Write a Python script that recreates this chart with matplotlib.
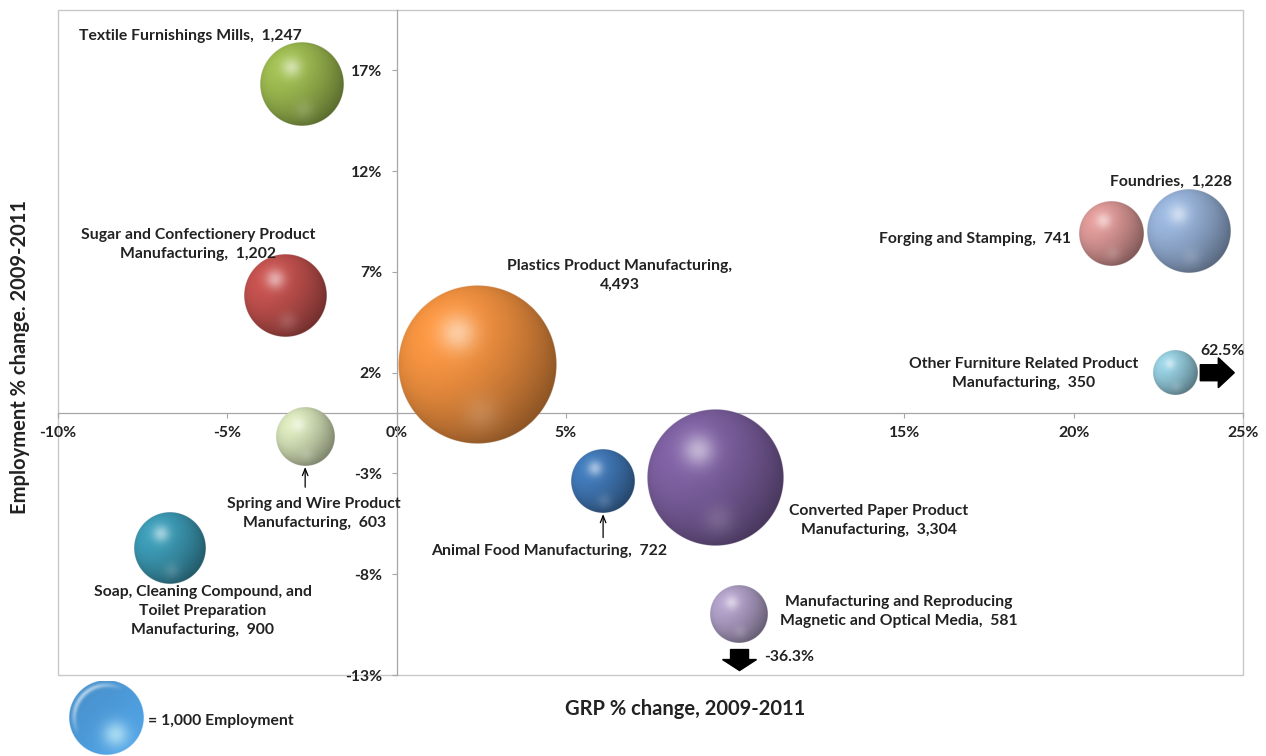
import numpy as np
import matplotlib
matplotlib.use("Agg")
import matplotlib.pyplot as plt
from matplotlib.colors import to_rgb
from matplotlib.patches import FancyArrow, Rectangle
from matplotlib.transforms import IdentityTransform

plt.rcParams['font.family'] = ['Lato', 'DejaVu Sans']
plt.rcParams['font.weight'] = 'bold'

# ----- DATA -----
industries = [
    "Textile Furnishings Mills",
    "Sugar and Confectionery Product\nManufacturing",
    "Plastics Product Manufacturing,\n",
    "Spring and Wire Product\nManufacturing",
    "Soap, Cleaning Compound, and\nToilet Preparation\nManufacturing",
    "Animal Food Manufacturing",
    "Converted Paper Product\nManufacturing",
    "Manufacturing and Reproducing\nMagnetic and Optical Media",
    "Forging and Stamping",
    "Foundries",
    "Other Furniture Related Product\nManufacturing",
]
grp_chg = [-2.8, -3.3, 2.4, -2.7, -6.7, 6.1, 9.4, 10.1, 21.1, 23.4, 62.5]   # GRP % change 2009-2011
emp_chg = [16.3, 5.8, 2.4, -1.2, -6.7, -3.4, -3.2, -36.3, 8.9, 9.0, 2.0]    # employment % change
employment = [1247, 1202, 4493, 603, 900, 722, 3304, 581, 741, 1228, 350]
colors = ["#9bb84f", "#c0504d", "#f0903f", "#d3e0b6", "#3b98b2", "#4077b5",
          "#7c5f9f", "#ad9dc4", "#d99694", "#95b0d6", "#93cadb"]

x_ticks = [-10, -5, 0, 5, 10, 15, 20, 25]
y_ticks = [-13, -8, -3, 2, 7, 12, 17]
x_lim = (-10, 25)
y_lim = (-13, 20)

# values beyond the axis range are pinned near the edge and flagged with an arrow
x_cap = 23.0
y_cap = -10.0

# label offsets from bubble centre (pixels) and alignment
label_pos = [(-111, 49, 'center'), (-87, 52, 'center'), (142, 89, 'center'),
             (9, -76, 'center'), (33, -63, 'center'), (-54, -69, 'center'),
             (164, -43, 'center'), (160, 3, 'center'), (-40, -5, 'right'),
             (-18, 50, 'center'), (-152, -1, 'center')]
arrow_from_label = {3: -50, 5: -56}

PX_PER_SQRT_K = 37.5   # bubble radius in pixels for 1,000 employees
FS = 11.3


def sphere_rgba(color, n=300, light=(-0.5, 0.45, 0.74)):
    base = np.array(to_rgb(color))
    v, u = np.mgrid[1:-1:n * 1j, -1:1:n * 1j]
    r = np.sqrt(u ** 2 + v ** 2)
    z = np.sqrt(np.clip(1 - r ** 2, 0, 1))
    L = np.array(light) / np.linalg.norm(light)
    d = u * L[0] + v * L[1] + z * L[2]
    d = np.clip((d + 0.6) / 1.6, 0, 1)          # wrapped diffuse
    shade = (0.58 + 0.48 * d ** 1.4)[..., None]
    rgb = np.clip(base * shade, 0, 1)
    hl = 0.5 * np.exp(-((u + 0.25) ** 2 + (v - 0.4) ** 2) / 0.055)[..., None]
    rgb = rgb + (1 - rgb) * hl
    bl = 0.14 * np.exp(-((u - 0.05) ** 2 + (v + 0.62) ** 2) / 0.05)[..., None]
    rgb = rgb + (1 - rgb) * bl
    alpha = np.clip((1 - r) * n / 2, 0, 1)
    return np.dstack([rgb, alpha])


def glossy_rgba(color, n=300):
    # lighter glass-like sphere used for the size key
    base = np.array(to_rgb(color))
    v, u = np.mgrid[1:-1:n * 1j, -1:1:n * 1j]
    r = np.sqrt(u ** 2 + v ** 2)
    t = np.clip((u - v) / 2.4 + 0.5, 0, 1)[..., None]
    glow = np.exp(-((u - 0.25) ** 2 + (v + 0.45) ** 2) / 0.12)[..., None]
    rgb = base * (0.92 + 0.1 * t)
    rgb = rgb + (np.array([0.75, 0.92, 0.97]) - rgb) * 0.75 * glow
    streak = (np.exp(-((r - 0.86) ** 2) / 0.004) * np.clip(-u + v - 0.3, 0, 1))[..., None]
    rgb = rgb + (1 - rgb) * 0.6 * streak
    rgb = np.clip(rgb, 0, 1)
    alpha = np.clip((1 - r) * n / 2, 0, 1)
    return np.dstack([rgb, alpha])


W, H = 1266, 756
fig = plt.figure(figsize=(W / 100, H / 100), dpi=100)
ax = fig.add_axes([58 / W, 1 - 675 / H, 1185 / W, 665 / H])
ax.set_xlim(*x_lim)
ax.set_ylim(*y_lim)
ax.set_autoscale_on(False)

# axes crossing at zero, plot area framed in light grey
for s in ['top', 'right']:
    ax.spines[s].set_visible(False)
ax.spines['left'].set_position(('data', 0))
ax.spines['bottom'].set_position(('data', 0))
for s in ['left', 'bottom']:
    ax.spines[s].set_color('#a6a6a6')
    ax.spines[s].set_linewidth(0.9)
ax.add_patch(Rectangle((0, 0), 1, 1, transform=ax.transAxes, fill=False,
                       edgecolor='#c8c8c8', lw=1.0, clip_on=False))
ax.set_xticks(x_ticks)
ax.set_yticks(y_ticks)
ax.set_xticklabels([f"{t}%" for t in x_ticks])
ax.set_yticklabels([f"{t}%" for t in y_ticks])
ax.tick_params(axis='both', direction='out', length=3.5, width=0.8, color='#a6a6a6',
               labelsize=FS, labelcolor='#222222')
ax.tick_params(axis='x', pad=6)
ax.tick_params(axis='y', pad=7)

fig.canvas.draw()
inv = ax.transData.inverted()

for i, name in enumerate(industries):
    xp = min(grp_chg[i], x_cap) if grp_chg[i] > x_lim[1] else grp_chg[i]
    yp = max(emp_chg[i], y_cap) if emp_chg[i] < y_lim[0] else emp_chg[i]
    r = PX_PER_SQRT_K * np.sqrt(employment[i] / 1000)
    cx, cy = ax.transData.transform((xp, yp))
    x0, y0 = inv.transform((cx - r, cy - r))
    x1, y1 = inv.transform((cx + r, cy + r))
    ax.imshow(sphere_rgba(colors[i]), extent=(x0, x1, y0, y1), aspect='auto',
              interpolation='antialiased', zorder=3, clip_on=False)

    dx, dy, ha = label_pos[i]
    if name.endswith(",\n"):
        txt = f"{name}{employment[i]:,}"
    else:
        txt = f"{name},  {employment[i]:,}"
    ax.annotate(txt, (xp, yp), xytext=(dx, dy), textcoords='offset pixels',
                ha=ha, va='center', multialignment='center', fontsize=FS,
                color='#222222', linespacing=1.45, zorder=5)

    if i in arrow_from_label:
        ax.annotate('', (xp, yp), xytext=(0, arrow_from_label[i]),
                    textcoords='offset pixels',
                    arrowprops=dict(arrowstyle='->,head_length=0.5,head_width=0.2',
                                    color='black', lw=0.9, shrinkA=0,
                                    shrinkB=r * 0.72 + 0.5))

    # off-scale markers
    if grp_chg[i] > x_lim[1]:
        fig.patches.append(FancyArrow(cx + 25, cy, 34, 0, width=16, head_width=30,
                                      head_length=16, length_includes_head=True,
                                      color='black', transform=IdentityTransform()))
        ax.annotate(f"{grp_chg[i]}%", (xp, yp), xytext=(25, 22), textcoords='offset pixels',
                    ha='left', va='center', fontsize=FS, color='#222222', annotation_clip=False)
    if emp_chg[i] < y_lim[0]:
        fig.patches.append(FancyArrow(cx + 1, cy - 35, 0, -21, width=18, head_width=34,
                                      head_length=11, length_includes_head=True,
                                      color='black', transform=IdentityTransform()))
        ax.annotate(f"{emp_chg[i]}%", (xp, yp), xytext=(26, -42), textcoords='offset pixels',
                    ha='left', va='center', fontsize=FS, color='#222222')

# axis titles
fig.text(685 / W, 1 - 709 / H, "GRP % change, 2009-2011", ha='center', va='center',
         fontsize=14.5, color='#222222')
fig.text(20 / W, 1 - 357 / H, "Employment % change. 2009-2011", ha='center', va='center',
         rotation=90, fontsize=14.5, color='#222222')

# size key
key_r = PX_PER_SQRT_K
kax = fig.add_axes([(106 - key_r) / W, 1 - (718 + key_r) / H, 2 * key_r / W, 2 * key_r / H])
kax.imshow(glossy_rgba("#4f9fe0"), interpolation='antialiased')
kax.axis('off')
fig.text(148 / W, 1 - 721 / H, "= 1,000 Employment", ha='left', va='center',
         fontsize=FS, color='#222222')

fig.savefig("out.png", dpi=100)
